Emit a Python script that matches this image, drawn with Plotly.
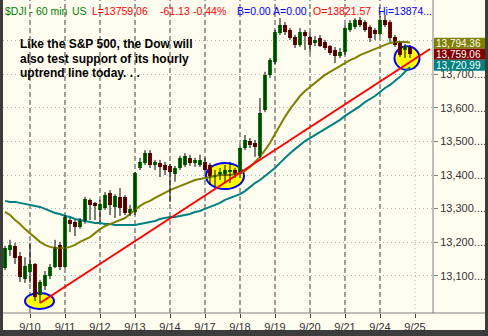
import plotly.graph_objects as go

# ---------------- data ----------------
day_labels = ["9/10", "9/11", "9/12", "9/13", "9/14", "9/17", "9/18", "9/19", "9/20", "9/21", "9/24", "9/25"]
day_start_bar = [5, 12, 19, 26, 33, 40, 47, 54, 61, 68, 75, 82]

opens = [13123, 13177, 13189, 13159, 13090, 13111, 13135, 13043, 13070, 13099,
         13126, 13192, 13126, 13266, 13260, 13245, 13260, 13326, 13318, 13296,
         13302, 13346, 13305, 13335, 13335, 13287, 13290, 13421, 13436, 13465,
         13430, 13436, 13430, 13427, 13403, 13421, 13430, 13451, 13436, 13430,
         13439, 13430, 13394, 13397, 13400, 13409, 13415, 13403, 13480, 13501,
         13495, 13457, 13593, 13698, 13736, 13823, 13846, 13832, 13811, 13787,
         13826, 13811, 13793, 13808, 13796, 13784, 13772, 13754, 13766, 13832,
         13840, 13861, 13855, 13840, 13832, 13820, 13861, 13855, 13811, 13793,
         13772, 13781]
highs = [13189, 13207, 13198, 13171, 13155, 13198, 13138, 13088, 13114, 13135,
         13207, 13201, 13281, 13272, 13266, 13272, 13335, 13330, 13320, 13326,
         13349, 13355, 13343, 13361, 13340, 13311, 13409, 13451, 13474, 13474,
         13445, 13445, 13439, 13433, 13427, 13457, 13465, 13460, 13451, 13460,
         13451, 13436, 13415, 13421, 13430, 13439, 13421, 13489, 13519, 13510,
         13504, 13629, 13707, 13748, 13832, 13867, 13855, 13837, 13817, 13837,
         13832, 13823, 13814, 13817, 13802, 13787, 13781, 13778, 13846, 13861,
         13867, 13870, 13861, 13846, 13837, 13873, 13876, 13861, 13817, 13796,
         13790, 13787]
lows = [13117, 13159, 13135, 13082, 13079, 13079, 13025, 13019, 13058, 13090,
        13123, 13117, 13123, 13230, 13218, 13240, 13255, 13266, 13266, 13260,
        13296, 13281, 13272, 13278, 13281, 13278, 13281, 13415, 13430, 13421,
        13415, 13394, 13400, 13320, 13380, 13415, 13424, 13427, 13424, 13424,
        13409, 13370, 13367, 13385, 13376, 13376, 13391, 13391, 13474, 13480,
        13454, 13451, 13587, 13689, 13730, 13817, 13817, 13802, 13778, 13781,
        13772, 13766, 13784, 13781, 13772, 13757, 13733, 13748, 13757, 13826,
        13834, 13840, 13826, 13796, 13802, 13814, 13840, 13796, 13781, 13751,
        13748, 13748]
closes = [13183, 13192, 13153, 13096, 13130, 13135, 13037, 13082, 13102, 13126,
          13183, 13126, 13275, 13254, 13245, 13266, 13329, 13311, 13308, 13315,
          13340, 13311, 13338, 13302, 13287, 13299, 13406, 13439, 13465, 13430,
          13439, 13424, 13415, 13409, 13421, 13451, 13457, 13436, 13445, 13445,
          13415, 13397, 13400, 13409, 13415, 13412, 13403, 13480, 13504, 13489,
          13483, 13585, 13698, 13742, 13826, 13846, 13826, 13808, 13787, 13826,
          13815, 13787, 13802, 13784, 13778, 13763, 13754, 13767, 13837, 13852,
          13861, 13846, 13832, 13808, 13820, 13861, 13846, 13808, 13787, 13757,
          13784, 13759.06]
ma_olive = [13290, 13281, 13266, 13254, 13239, 13227, 13213, 13201, 13192, 13186,
            13183, 13183, 13183, 13186, 13192, 13201, 13207, 13215, 13227, 13239,
            13248, 13254, 13260, 13266, 13272, 13284, 13296, 13308, 13317, 13323,
            13332, 13340, 13349, 13355, 13361, 13367, 13373, 13379, 13385, 13388,
            13391, 13394, 13397, 13400, 13400, 13400, 13403, 13406, 13412, 13424,
            13439, 13454, 13474, 13495, 13522, 13549, 13573, 13596, 13617, 13635,
            13650, 13662, 13674, 13686, 13698, 13707, 13715, 13724, 13733, 13742,
            13748, 13757, 13763, 13769, 13775, 13781, 13787, 13793, 13796, 13797,
            13796, 13794.36]
ma_teal = [13323, 13320, 13320, 13317, 13314, 13311, 13308, 13305, 13299, 13293,
           13287, 13284, 13278, 13275, 13269, 13266, 13263, 13260, 13257, 13257,
           13254, 13254, 13251, 13251, 13251, 13251, 13251, 13254, 13257, 13260,
           13263, 13269, 13272, 13275, 13275, 13278, 13281, 13284, 13290, 13293,
           13299, 13305, 13311, 13317, 13326, 13332, 13338, 13343, 13352, 13364,
           13376, 13385, 13397, 13409, 13421, 13436, 13451, 13465, 13477, 13489,
           13501, 13510, 13519, 13528, 13537, 13546, 13555, 13564, 13576, 13585,
           13596, 13605, 13617, 13626, 13635, 13647, 13659, 13668, 13680, 13692,
           13707, 13720.99]
trend_bars = [7, 85]
trend_prices = [13019, 13775]
y_ticks = [13100, 13200, 13300, 13400, 13500, 13600, 13700, 13800]
# the 13,800 label is hidden behind the value boxes in the reference
y_tick_labels = ["13,100....", "13,200....", "13,300....", "13,400....",
                 "13,500....", "13,600....", "13,700....", ""]
# highlighted zones: centre bar, centre price, half width (bars), half height (price)
hl_bar = [6.9, 44.0, 80.4]
hl_price = [13025, 13397, 13748]
hl_dx = [2.9, 3.8, 2.5]
hl_dy = [24, 39, 35]

title_parts = [("$DJI - 60 min", "#008000"), ("US", "#008000"), ("L=13759.06", "#ff0000"),
               ("-61.13", "#ff0000"), ("-0.44%", "#ff0000"), ("B=0.00", "#0000ff"),
               ("A=0.00", "#0000ff"), ("O=13821.57", "#ff0000"), ("Hi=13874...", "#0000ff")]
title_px = [4, 71, 91, 159, 192, 236, 272, 312, 377]
note_lines = ["Like the S&amp;P 500, the Dow will", "also test support of its hourly",
              "uptrend line today. . ."]

# ---------------- layout helpers ----------------
W, H = 488, 336
PL, PR, PT, PB = 3, 433, 0, 313
FONT = "Liberation Sans, Arial, sans-serif"
def px2x(px): return (px - PL) / (PR - PL)
def py2y(py): return (PB - py) / (PB - PT)

YMIN, YMAX = 12989.3, 13920.8
pts_per_px = (YMAX - YMIN) / (PB - PT)

fig = go.Figure()
idx = list(range(len(closes)))

# MAs
fig.add_trace(go.Scatter(x=idx, y=ma_teal, mode="lines", line=dict(color="#008080", width=2), hoverinfo="skip"))
fig.add_trace(go.Scatter(x=idx, y=ma_olive, mode="lines", line=dict(color="#808000", width=2), hoverinfo="skip"))

# wicks
wx, wy = [], []
for i, (h, l) in enumerate(zip(highs, lows)):
    wx += [i, i, None]
    wy += [l, h, None]
fig.add_trace(go.Scatter(x=wx, y=wy, mode="lines", line=dict(color="#000000", width=1), hoverinfo="skip"))

# bodies
base = [min(o, c) for o, c in zip(opens, closes)]
hgt = [max(abs(c - o), 2.0) for o, c in zip(opens, closes)]
cols = ["#008000" if c >= o else "#800000" for o, c in zip(opens, closes)]
fig.add_trace(go.Bar(x=idx, y=hgt, base=base, width=0.74, marker=dict(color=cols, line=dict(width=0)),
                     hoverinfo="skip"))

# trendline
fig.add_trace(go.Scatter(x=trend_bars, y=trend_prices, mode="lines", line=dict(color="#ff0000", width=2),
                         hoverinfo="skip"))

shapes = []
# cream background incl. label areas
shapes.append(dict(type="rect", xref="paper", yref="paper", x0=px2x(3), x1=px2x(485), y0=py2y(330), y1=py2y(0),
                   fillcolor="#fffcf0", line=dict(width=0), layer="below"))
# day lines
for b, lab in zip(day_start_bar, day_labels):
    if lab == "9/25":
        shapes.append(dict(type="line", xref="x", yref="paper", x0=b, x1=b, y0=0, y1=1,
                           line=dict(color="#b0b0b0", width=1, dash="1px,3px"), layer="below"))
    else:
        shapes.append(dict(type="line", xref="x", yref="paper", x0=b, x1=b, y0=0, y1=1,
                           line=dict(color="#404040", width=1, dash="5px,3px"), layer="below"))
# highlight ellipses
for cb, cp, dx, dy in zip(hl_bar, hl_price, hl_dx, hl_dy):
    shapes.append(dict(type="circle", xref="x", yref="y", x0=cb - dx, x1=cb + dx, y0=cp - dy, y1=cp + dy,
                       fillcolor="#ffff00", line=dict(color="#0000ff", width=2), layer="between"))
# axis lines
shapes.append(dict(type="line", xref="paper", yref="paper", x0=px2x(3), x1=px2x(485), y0=0, y1=0,
                   line=dict(color="#808080", width=1), layer="above"))
shapes.append(dict(type="line", xref="paper", yref="paper", x0=1, x1=1, y0=0, y1=1,
                   line=dict(color="#808080", width=1), layer="above"))

# last-value boxes
box_h = 11.0 * pts_per_px
last = closes[-1]
box_specs = [(last + box_h, ma_olive[-1], "#808000"), (last, last, "#800000"), (last - box_h, ma_teal[-1], "#008080")]
annotations = []
for center, val, col in box_specs:
    shapes.append(dict(type="rect", xref="paper", yref="paper", x0=px2x(434), x1=px2x(488),
                       y0=0, y1=0, fillcolor=col, line=dict(width=0), layer="above"))
    shapes[-1].update(yref="y", y0=center - box_h / 2, y1=center + box_h / 2)
    annotations.append(dict(xref="paper", yref="y", x=px2x(435), y=center, xanchor="left", yanchor="middle",
                            text=f"{val:,.2f}", showarrow=False, borderpad=0,
                            font=dict(family=FONT, size=10, color="#ffffff")))

# border (right strip)
shapes.append(dict(type="rect", xref="paper", yref="paper", x0=px2x(485), x1=px2x(490), y0=py2y(340), y1=1,
                   fillcolor="#3c3c3c", line=dict(width=0), layer="above"))

# title
for (txt, col), x in zip(title_parts, title_px):
    annotations.append(dict(xref="paper", yref="paper", x=px2x(x), y=py2y(11), xanchor="left", yanchor="middle",
                            text=txt, showarrow=False, borderpad=0,
                            font=dict(family=FONT, size=10.5, color=col)))
# note
for k, line in enumerate(note_lines):
    annotations.append(dict(xref="paper", yref="paper", x=px2x(18), y=py2y(44 + 14.5 * k), xanchor="left",
                            yanchor="middle", text="<b>" + line + "</b>", showarrow=False,
                            font=dict(family=FONT, size=12, color="#000000")))

fig.update_layout(
    width=W, height=H, autosize=False,
    margin=dict(l=PL, r=W - PR, t=PT, b=H - PB, pad=0),
    paper_bgcolor="#3c3c3c", plot_bgcolor="#fffcf0",
    showlegend=False, barmode="overlay", bargap=0,
    shapes=shapes, annotations=annotations,
    xaxis=dict(range=[-0.4, 85.6], tickmode="array", tickvals=day_start_bar, ticktext=day_labels,
               showgrid=False, zeroline=False, showline=False, ticks="outside", ticklen=4,
               tickcolor="#404040", tickfont=dict(family=FONT, size=11, color="#333333"), fixedrange=True),
    yaxis=dict(range=[YMIN, YMAX], side="right", tickmode="array", tickvals=y_ticks, ticktext=y_tick_labels,
               showgrid=True, gridcolor="#b4b4b4", griddash="1px,3px", gridwidth=1, zeroline=False,
               showline=False, ticks="outside", ticklen=4, tickcolor="#808080",
               tickfont=dict(family=FONT, size=11, color="#333333"), fixedrange=True),
)

fig.write_html("out.html")
